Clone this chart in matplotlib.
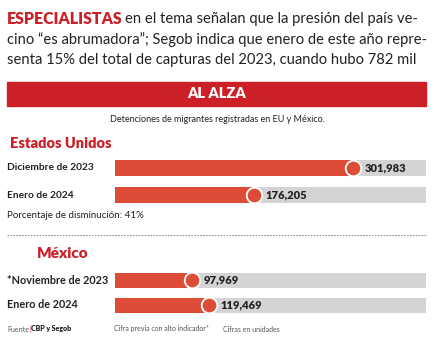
import matplotlib
matplotlib.use('Agg')
import matplotlib.pyplot as plt
from matplotlib.patches import Rectangle
from matplotlib.lines import Line2D

W, H = 435, 342

# datos
eu_labels = ['Diciembre de 2023', 'Enero de 2024']
eu_values = [301983, 176205]
mx_labels = ['*Noviembre de 2023', 'Enero de 2024']
mx_values = [97969, 119469]
escala_max = 395000

headline = ['en el tema señalan que la presión del país ve-',
            'cino “es abrumadora”; Segob indica que enero de este año repre-',
            'senta 15% del total de capturas del 2023, cuando hubo 782 mil']

ROJO = '#cd1f26'
BARRA = '#dc4c36'
GRIS = '#d4d4d6'
FONT = 'Lato'

plt.rcParams['font.family'] = [FONT, 'DejaVu Sans']

fig = plt.figure(figsize=(W / 100, H / 100), dpi=100)
fig.patch.set_facecolor('white')


def fy(py):
    return 1 - py / H


def fx(px):
    return px / W


def ancho(t):
    fig.canvas.draw()
    return t.get_window_extent(fig.canvas.get_renderer())


# titular: el tamaño se ajusta para que la linea mas larga ocupe 418 px
t1 = fig.text(fx(7), fy(40), headline[1], fontsize=11, va='center', ha='left', color='#222222')
fs = 11 * 418 / ancho(t1).width
t1.set_fontsize(fs)
t0 = fig.text(fx(7), fy(19), 'ESPECIALISTAS', color=ROJO, fontsize=fs * 1.08,
              fontweight='heavy', va='center', ha='left')
bb = ancho(t0)
fig.text(bb.x1 / W + 0.006, fy(19), headline[0], fontsize=fs, va='center', ha='left', color='#222222')
fig.text(fx(7), fy(60), headline[2], fontsize=fs, va='center', ha='left', color='#222222')

# banda roja
fig.patches.append(Rectangle((fx(7), fy(106)), fx(426) - fx(7), (106 - 82) / H,
                             transform=fig.transFigure, color=ROJO, zorder=0))
fig.text(fx(217), fy(94), 'AL ALZA', color='white', fontsize=10.5, fontweight='heavy',
         ha='center', va='center')
fig.text(fx(217), fy(119), 'Detenciones de migrantes registradas en EU y México.',
         fontsize=6.5, ha='center', va='center', color='#222222')

# titulos de seccion
fig.text(fx(10), fy(143), 'Estados Unidos', color=ROJO, fontsize=10.5, fontweight='heavy',
         ha='left', va='center')
fig.text(fx(37), fy(254), 'México', color=ROJO, fontsize=11, fontweight='heavy',
         ha='left', va='center')


def panel(top, bottom, labels, values, hgt, lblsize):
    ax = fig.add_axes([fx(115), fy(bottom), fx(426) - fx(115), (bottom - top) / H])
    ys = list(range(len(values)))
    ax.barh(ys, [escala_max] * len(values), height=hgt, color=GRIS, zorder=1)
    ax.barh(ys, values, height=hgt, color=BARRA, zorder=2)
    ax.scatter(values, ys, s=125, color=BARRA, edgecolor='white', linewidth=1.3,
               zorder=3, clip_on=False)
    for y, v, lab in zip(ys, values, labels):
        ax.annotate(f'{v:,}', (v, y), xytext=(8.5, 0), textcoords='offset points',
                    fontsize=8, fontweight='heavy', va='center', ha='left',
                    color='#222222', zorder=4)
        ax.annotate(lab, (fx(7), y), xycoords=('figure fraction', 'data'),
                    fontsize=lblsize, fontweight='bold', va='center', ha='left',
                    color='#222222')
    ax.set_xlim(0, escala_max)
    ax.set_ylim(len(values) - 0.5, -0.5)
    ax.axis('off')
    return ax


panel(154.5, 208.5, eu_labels, eu_values, 0.56, 7.3)
panel(267.5, 317.5, mx_labels, mx_values, 0.6, 7.8)

fig.text(fx(7), fy(216), 'Porcentaje de disminución: 41%', fontsize=7, ha='left',
         va='center', color='#222222')

# separador punteado
fig.lines.append(Line2D([fx(7), fx(426)], [fy(235), fy(235)], transform=fig.transFigure,
                        color='#777777', linewidth=0.6, linestyle=(0, (2, 1.5))))

# pie
f1 = fig.text(fx(7), fy(329), 'Fuente', fontsize=5, ha='left', va='center', color='#555555')
x1 = ancho(f1).x1
f2 = fig.text(x1 / W, fy(329), '|', fontsize=5, ha='left', va='center', color=ROJO)
x2 = ancho(f2).x1
fig.text(x2 / W, fy(329), 'CBP y Segob', fontsize=5, fontweight='heavy', ha='left',
         va='center', color='#222222')
fig.text(fx(114), fy(329), 'Cifra previa con alto indicador*', fontsize=5, ha='left',
         va='center', color='#555555')
fig.text(fx(223), fy(329), 'Cifras en unidades', fontsize=5, ha='left', va='center',
         color='#555555')

fig.savefig('out.png', dpi=100, facecolor='white')
